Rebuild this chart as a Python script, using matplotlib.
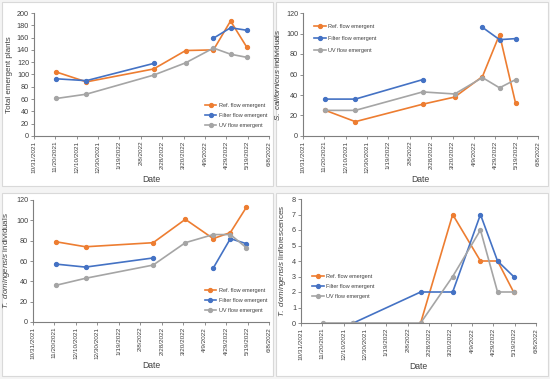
import datetime as dt
import numpy as np
import matplotlib
matplotlib.use('Agg')
import matplotlib.pyplot as plt
from matplotlib.patches import Rectangle

plt.rcParams['font.family'] = ['Liberation Sans', 'DejaVu Sans']
plt.rcParams['mathtext.fontset'] = 'custom'
plt.rcParams['mathtext.rm'] = 'Liberation Sans'
plt.rcParams['mathtext.it'] = 'Liberation Sans:italic'

# sampling dates
dates = [dt.date(2021, 11, 21), dt.date(2021, 12, 19), dt.date(2022, 2, 20),
         dt.date(2022, 3, 22), dt.date(2022, 4, 17), dt.date(2022, 5, 3),
         dt.date(2022, 5, 18)]

series_names = ['Ref. flow emergent', 'Filter flow emergent', 'UV flow emergent']
colors = ['#ED7D31', '#4472C4', '#A5A5A5']

nan = np.nan

# Total emergent plants
total_ref = [104, 88, 109, 139, 140, 187, 145]
total_filter = [93, 90, 118, nan, 159, 176, 172]
total_uv = [61, 68, 99, 119, 143, 133, 128]

# S. californicus individuals
scal_ref = [25, 14, 31, 38, 58, 99, 32]
scal_filter = [36, 36, 55, nan, 106, 94, 95]
scal_uv = [25, 25, 43, 41, 57, 47, 55]

# T. domingensis individuals
tdom_ref = [79, 74, 78, 101, 82, 88, 113]
tdom_filter = [57, 54, 63, nan, 53, 82, 77]
tdom_uv = [36, 43, 56, 78, 86, 86, 73]

# T. domingensis inflorescences
infl_ref = [nan, nan, 0, 7, 4, 4, 2]
infl_filter = [nan, 0, 2, 2, 7, 4, 3]
infl_uv = [0, 0, 0, 3, 6, 2, 2]

tick_dates = [dt.date(2021, 10, 31) + dt.timedelta(days=20 * i) for i in range(12)]

W, H = 550, 379
fig = plt.figure(figsize=(W / 100, H / 100), dpi=100)
fig.patch.set_facecolor('#f4f4f4')


def px_axes(left, top, right, bottom):
    return fig.add_axes([left / W, 1 - bottom / H, (right - left) / W, (bottom - top) / H])


def border(left, top, right, bottom):
    fig.patches.append(Rectangle((left / W, 1 - bottom / H), (right - left) / W,
                                 (bottom - top) / H, transform=fig.transFigure,
                                 facecolor='white', edgecolor='#d9d9d9', lw=0.8, zorder=-1))


def panel(ax, ref, filt, uv, ymax, ystep, ylabel, leg_anchor, spacing=0.9):
    for vals, name, c in zip([ref, filt, uv], series_names, colors):
        ax.plot(dates, vals, color=c, lw=1.2, marker='o', ms=2.8, label=name)
    ax.set_xlim(tick_dates[0], tick_dates[-1])
    ax.set_ylim(0, ymax)
    ax.set_yticks(np.arange(0, ymax + ystep / 2, ystep))
    ax.set_xticks(tick_dates)
    ax.set_xticklabels([f'{d.month}/{d.day}/{d.year}' for d in tick_dates], rotation=90)
    ax.tick_params(labelsize=4.6, length=2, width=0.6, color='#7f7f7f', pad=1.5,
                   labelcolor='#404040')
    ax.tick_params(axis='y', labelsize=5.2)
    for s in ['top', 'right']:
        ax.spines[s].set_visible(False)
    for s in ['left', 'bottom']:
        ax.spines[s].set_color('#7f7f7f')
        ax.spines[s].set_linewidth(0.8)
    ax.set_ylabel(ylabel, fontsize=5.8, color='#404040', labelpad=3)
    ax.set_xlabel('Date', fontsize=6.2, color='#404040', labelpad=1.5)
    ax.set_facecolor('none')
    ax.legend(loc='upper left', bbox_to_anchor=leg_anchor, frameon=False, fontsize=4.0,
              handlelength=2.1, handletextpad=0.5, labelspacing=spacing, borderpad=0,
              labelcolor='#404040')


border(2, 2, 273, 186)
border(276, 2, 548, 186)
border(2, 193, 273, 376)
border(276, 193, 548, 376)

ax1 = px_axes(34, 13, 269, 136)
panel(ax1, total_ref, total_filter, total_uv, 200, 20, 'Total emergent plants', (0.715, 0.29))

ax2 = px_axes(303, 13, 538, 136)
panel(ax2, scal_ref, scal_filter, scal_uv, 120, 20,
      r'$\it{S.\ californicus}$ individuals', (0.035, 0.93), spacing=1.25)

ax3 = px_axes(33, 200, 269, 322)
panel(ax3, tdom_ref, tdom_filter, tdom_uv, 120, 20,
      r'$\it{T.\ domingensis}$ individuals', (0.715, 0.3))

ax4 = px_axes(301, 199, 536, 323)
panel(ax4, infl_ref, infl_filter, infl_uv, 8, 1,
      r'$\it{T.\ domingensis}$ linflorescences', (0.035, 0.42))

fig.savefig('out.png', dpi=100)
